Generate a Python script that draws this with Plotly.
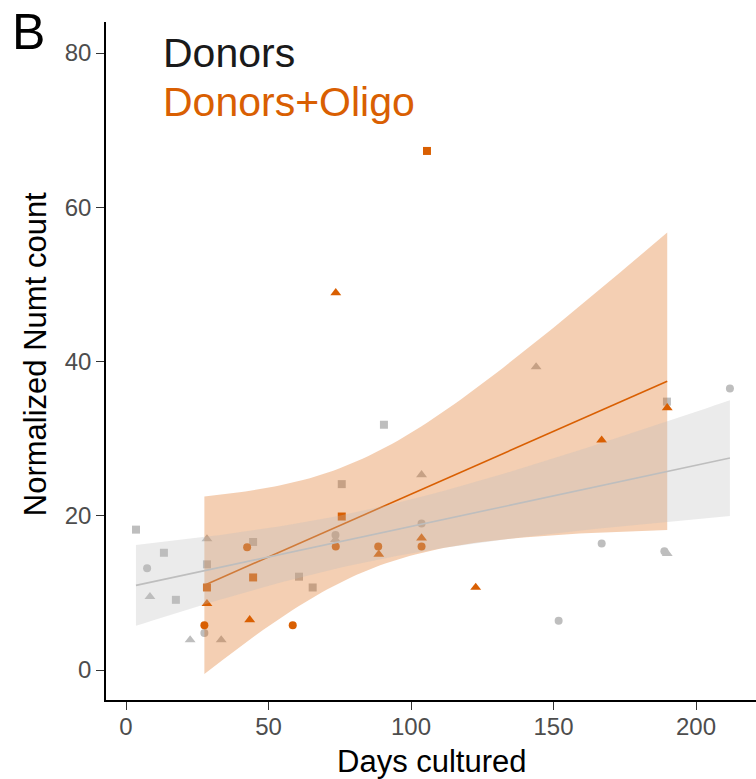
import math
import numpy as np
import plotly.graph_objects as go

# ---------------- data ----------------
# Donors (grey)
donor_circle_x = [7.4, 27.5, 73.5, 103.7, 151.8, 166.9, 188.9, 211.9]
donor_circle_y = [13.2, 4.8, 17.5, 19.0, 6.4, 16.4, 15.4, 36.5]
donor_square_x = [3.5, 13.3, 17.5, 28.4, 44.6, 60.7, 65.5, 75.7, 90.5, 189.8]
donor_square_y = [18.2, 15.2, 9.1, 13.7, 16.6, 12.1, 10.7, 24.1, 31.8, 34.8]
donor_tri_x = [8.4, 22.5, 28.4, 33.4, 73.5, 103.7, 143.9, 189.9]
donor_tri_y = [9.5, 3.9, 17.0, 3.9, 16.9, 25.3, 39.3, 15.1]

# Donors+Oligo (orange)
oligo_circle_x = [27.5, 42.5, 58.5, 73.6, 88.5, 103.7]
oligo_circle_y = [5.8, 15.9, 5.8, 16.0, 16.0, 16.0]
oligo_square_x = [28.4, 44.6, 75.7, 105.6]
oligo_square_y = [10.7, 12.0, 19.9, 67.3]
oligo_tri_x = [28.4, 43.4, 73.6, 88.7, 103.7, 122.7, 166.9, 189.9]
oligo_tri_y = [8.6, 6.5, 48.9, 15.0, 17.1, 10.7, 29.8, 34.0]

x_ticks = [0, 50, 100, 150, 200]
y_ticks = [0, 20, 40, 60, 80]

GREY = "#BEBEBE"
ORANGE = "#D95F02"
FONT = "Liberation Sans, Arial, Helvetica, sans-serif"


# ---------------- helpers ----------------
def t_cdf(t, df):
    c = math.gamma((df + 1) / 2) / (math.sqrt(df * math.pi) * math.gamma(df / 2))
    n = 2000
    xs = np.linspace(0, t, n + 1)
    f = c * (1 + xs ** 2 / df) ** (-(df + 1) / 2)
    h = t / n
    integ = h / 3 * (f[0] + f[-1] + 4 * f[1:-1:2].sum() + 2 * f[2:-1:2].sum())
    return 0.5 + integ


def t_ppf(p, df):
    lo, hi = 0.0, 20.0
    for _ in range(80):
        mid = (lo + hi) / 2
        if t_cdf(mid, df) < p:
            lo = mid
        else:
            hi = mid
    return (lo + hi) / 2


def lm_band(xs, ys, n=80):
    x = np.asarray(xs, float)
    y = np.asarray(ys, float)
    N = len(x)
    b1, b0 = np.polyfit(x, y, 1)
    res = y - (b0 + b1 * x)
    s = math.sqrt((res ** 2).sum() / (N - 2))
    xbar = x.mean()
    sxx = ((x - xbar) ** 2).sum()
    grid = np.linspace(x.min(), x.max(), n)
    fit = b0 + b1 * grid
    se = s * np.sqrt(1 / N + (grid - xbar) ** 2 / sxx)
    tq = t_ppf(0.975, N - 2)
    return grid, fit, fit - tq * se, fit + tq * se


donor_x = donor_circle_x + donor_square_x + donor_tri_x
donor_y = donor_circle_y + donor_square_y + donor_tri_y
oligo_x = oligo_circle_x + oligo_square_x + oligo_tri_x
oligo_y = oligo_circle_y + oligo_square_y + oligo_tri_y

fig = go.Figure()

# points
def pts(x, y, color, symbol, size):
    fig.add_trace(go.Scatter(x=x, y=y, mode="markers", showlegend=False,
                             marker=dict(color=color, symbol=symbol, size=size,
                                         line=dict(width=0))))

pts(donor_circle_x, donor_circle_y, GREY, "circle", 8)
pts(donor_square_x, donor_square_y, GREY, "square", 8)
pts(donor_tri_x, donor_tri_y, GREY, "triangle-up", 9.5)
pts(oligo_circle_x, oligo_circle_y, ORANGE, "circle", 8)
pts(oligo_square_x, oligo_square_y, ORANGE, "square", 8)
pts(oligo_tri_x, oligo_tri_y, ORANGE, "triangle-up", 9.5)

# smooths
def smooth(xs, ys, color, fill):
    g, f, lo, hi = lm_band(xs, ys)
    fig.add_trace(go.Scatter(x=list(g) + list(g[::-1]), y=list(hi) + list(lo[::-1]),
                             fill="toself", fillcolor=fill, mode="lines",
                             line=dict(width=0), showlegend=False, hoverinfo="skip"))
    fig.add_trace(go.Scatter(x=g, y=f, mode="lines", line=dict(color=color, width=1.6),
                             showlegend=False))

smooth(oligo_x, oligo_y, ORANGE, "rgba(217,95,2,0.3)")
smooth(donor_x, donor_y, GREY, "rgba(190,190,190,0.3)")

axis_common = dict(showgrid=False, zeroline=False, showline=True, linecolor="black",
                   linewidth=1.6, ticks="outside", ticklen=8, tickwidth=1.4,
                   tickcolor="#333333", automargin=False,
                   tickfont=dict(family=FONT, size=24, color="#4D4D4D"))

fig.update_xaxes(range=[-7.02, 221.05], tickvals=x_ticks, ticklabelstandoff=-4, **axis_common)
fig.update_yaxes(range=[-3.89, 84.02], tickvals=y_ticks, **axis_common)

fig.update_layout(
    width=756, height=779,
    margin=dict(l=106, r=0, t=22, b=79),
    plot_bgcolor="white", paper_bgcolor="white",
    font=dict(family=FONT),
    annotations=[
        dict(text="B", x=-0.1477, y=1.030, xref="paper", yref="paper", xanchor="left",
             yanchor="top", showarrow=False, font=dict(family=FONT, size=50, color="black")),
        dict(text="Donors", x=0.0846, y=0.9543, xref="paper", yref="paper", xanchor="left",
             yanchor="middle", showarrow=False, font=dict(family=FONT, size=41, color="#1A1A1A")),
        dict(text="Donors+Oligo", x=0.0846, y=0.882, xref="paper", yref="paper", xanchor="left",
             yanchor="middle", showarrow=False, font=dict(family=FONT, size=41, color=ORANGE)),
        dict(text="Days cultured", x=0.502, y=-0.0914, xref="paper", yref="paper",
             xanchor="center", yanchor="middle", showarrow=False,
             font=dict(family=FONT, size=31, color="black")),
        dict(text="Normalized Numt count", x=-0.109, y=0.5103, xref="paper", yref="paper",
             xanchor="center", yanchor="middle", textangle=-90, showarrow=False,
             font=dict(family=FONT, size=31, color="black")),
    ],
)

fig.write_html("out.html", config={"displayModeBar": False},
               post_script="document.body.style.margin='0px';document.body.style.overflow='hidden';")
